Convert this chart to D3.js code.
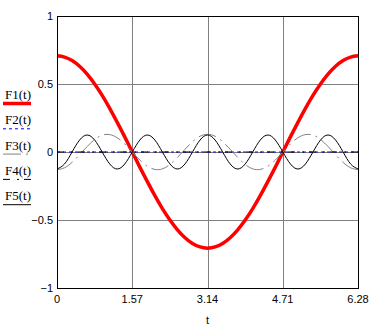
<!DOCTYPE html>
<html lang="en">
<head>
  <meta charset="utf-8">
  <script src="https://d3js.org/d3.v7.min.js"></script>
  <style>
    body { margin: 0; background: #fff; overflow: hidden; }
    .tick-label { font-family: "Liberation Sans", Arial, sans-serif; font-size: 11px; fill: #000; }
    .legend-label { font-family: "Liberation Serif", "Times New Roman", serif; font-size: 13px; fill: #000; }
  </style>
</head>
<body>
  <svg id="chart" width="379" height="328"></svg>
  <script>
    // sample points: t = k * pi/20, k = 0..40
    var tValues = d3.range(41).map(function(k) { return k * Math.PI / 20; });

    var f1 = [0.707, 0.698, 0.672, 0.630, 0.572, 0.500, 0.416, 0.321, 0.218, 0.111,
              0, -0.111, -0.218, -0.321, -0.416, -0.500, -0.572, -0.630, -0.672, -0.698,
              -0.707, -0.698, -0.672, -0.630, -0.572, -0.500, -0.416, -0.321, -0.218, -0.111,
              0, 0.111, 0.218, 0.321, 0.416, 0.500, 0.572, 0.630, 0.672, 0.698, 0.707];
    var f2 = [0, 0, 0, 0, 0, 0, 0, 0, 0, 0, 0, 0, 0, 0, 0, 0, 0, 0, 0, 0, 0,
              0, 0, 0, 0, 0, 0, 0, 0, 0, 0, 0, 0, 0, 0, 0, 0, 0, 0, 0, 0];
    var f3 = [-0.130, -0.116, -0.076, -0.020, 0.040, 0.092, 0.124, 0.128, 0.105, 0.059,
              0, -0.059, -0.105, -0.128, -0.124, -0.092, -0.040, 0.020, 0.076, 0.116,
              0.130, 0.116, 0.076, 0.020, -0.040, -0.092, -0.124, -0.128, -0.105, -0.059,
              0, 0.059, 0.105, 0.128, 0.124, 0.092, 0.040, -0.020, -0.076, -0.116, -0.130];
    var f4 = [0, 0, 0, 0, 0, 0, 0, 0, 0, 0, 0, 0, 0, 0, 0, 0, 0, 0, 0, 0, 0,
              0, 0, 0, 0, 0, 0, 0, 0, 0, 0, 0, 0, 0, 0, 0, 0, 0, 0, 0, 0];
    var f5 = [-0.125, -0.088, 0, 0.088, 0.125, 0.088, 0, -0.088,
              -0.125, -0.088, 0, 0.088, 0.125, 0.088, 0, -0.088,
              -0.125, -0.088, 0, 0.088, 0.125, 0.088, 0, -0.088,
              -0.125, -0.088, 0, 0.088, 0.125, 0.088, 0, -0.088,
              -0.125, -0.088, 0, 0.088, 0.125, 0.088, 0, -0.088, -0.125];

    var xTicks = [0, 1.57, 3.14, 4.71, 6.28];
    var yTicks = [1, 0.5, 0, -0.5, -1];
    var seriesNames = ["F1(t)", "F2(t)", "F3(t)", "F4(t)", "F5(t)"];

    var series = [
      { name: seriesNames[0], values: f1, color: "#ff0000", width: 3.5, dash: null },
      { name: seriesNames[1], values: f2, color: "#0000ff", width: 1, dash: "3,3" },
      { name: seriesNames[2], values: f3, color: "#808080", width: 1, dash: "18,5,2,5" },
      { name: seriesNames[3], values: f4, color: "#000000", width: 1, dash: "7,7,2,5" },
      { name: seriesNames[4], values: f5, color: "#000000", width: 1, dash: null }
    ];

    var svg = d3.select("#chart"),
        margin = {top: 16, right: 21, bottom: 40, left: 57},
        width = +svg.attr("width") - margin.left - margin.right,
        height = +svg.attr("height") - margin.top - margin.bottom;

    var x = d3.scaleLinear().domain([0, 6.28]).range([0, width]);
    var y = d3.scaleLinear().domain([-1, 1]).range([height, 0]);

    var g = svg.append("g")
        .attr("transform", "translate(" + margin.left + "," + margin.top + ")");

    // grid lines
    g.selectAll(".vgrid")
      .data(xTicks.slice(1, -1))
      .enter().append("line")
        .attr("x1", function(d) { return Math.round(x(d)) + 0.5; })
        .attr("x2", function(d) { return Math.round(x(d)) + 0.5; })
        .attr("y1", 0).attr("y2", height)
        .attr("stroke", "#808080");

    g.selectAll(".hgrid")
      .data(yTicks.slice(1, -1))
      .enter().append("line")
        .attr("y1", function(d) { return Math.round(y(d)) + 0.5; })
        .attr("y2", function(d) { return Math.round(y(d)) + 0.5; })
        .attr("x1", 0).attr("x2", width)
        .attr("stroke", "#808080");

    // curves
    var line = d3.line()
        .x(function(d, i) { return x(tValues[i]); })
        .y(function(d) { return y(d); })
        .curve(d3.curveNatural);

    g.selectAll(".series")
      .data(series)
      .enter().append("path")
        .attr("d", function(s) { return line(s.values); })
        .attr("fill", "none")
        .attr("stroke", function(s) { return s.color; })
        .attr("stroke-width", function(s) { return s.width; })
        .attr("stroke-dasharray", function(s) { return s.dash; });

    // frame
    g.append("rect")
        .attr("x", 0.5).attr("y", 0.5)
        .attr("width", width).attr("height", height)
        .attr("fill", "none")
        .attr("stroke", "#000");

    // tick labels
    g.selectAll(".xlab")
      .data(xTicks)
      .enter().append("text")
        .attr("class", "tick-label")
        .attr("x", function(d) { return x(d); })
        .attr("y", height + 15)
        .attr("text-anchor", "middle")
        .text(function(d) { return d === 0 ? "0" : d.toFixed(2); });

    g.selectAll(".ylab")
      .data(yTicks)
      .enter().append("text")
        .attr("class", "tick-label")
        .attr("x", -4)
        .attr("y", function(d) { return y(d) + 4; })
        .attr("text-anchor", "end")
        .text(function(d) { return d < 0 ? "\u2212" + Math.abs(d) : d; });

    g.append("text")
        .attr("class", "tick-label")
        .attr("x", width / 2)
        .attr("y", height + 36)
        .attr("text-anchor", "middle")
        .text("t");

    // legend
    var legend = svg.selectAll(".legend")
      .data(series)
      .enter().append("g")
        .attr("transform", function(d, i) { return "translate(0," + (99 + i * 25.3) + ")"; });

    legend.append("text")
        .attr("class", "legend-label")
        .attr("x", 5)
        .attr("y", 0)
        .text(function(d) { return d.name; });

    legend.append("line")
        .attr("x1", 3).attr("x2", 31)
        .attr("y1", 4.5).attr("y2", 4.5)
        .attr("stroke", function(d) { return d.color; })
        .attr("stroke-width", function(d) { return d.width; })
        .attr("stroke-dasharray", function(d) { return d.dash; });
  </script>
</body>
</html>
